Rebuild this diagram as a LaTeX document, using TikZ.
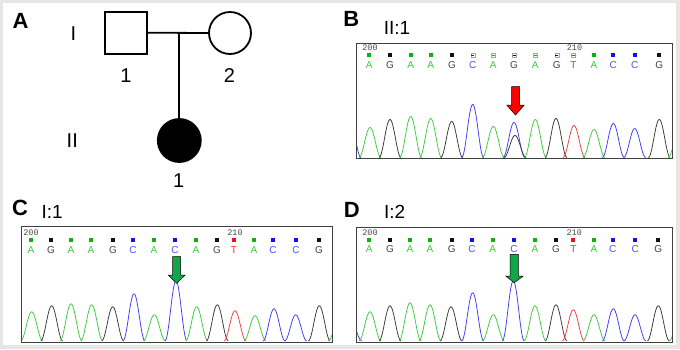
\documentclass[tikz,border=0pt]{standalone}
\usepackage{fontspec}
\setmainfont{Liberation Sans}
\newfontfamily\monof{Liberation Mono}
\definecolor{frame}{HTML}{E6E6E6}
\definecolor{sg}{HTML}{10B010}
\definecolor{sb}{HTML}{1010F0}
\definecolor{sk}{HTML}{111111}
\definecolor{sr}{HTML}{EE1111}
\definecolor{lg}{HTML}{3CC83C}
\definecolor{lb}{HTML}{5050F0}
\definecolor{lk}{HTML}{444444}
\definecolor{lr}{HTML}{F03030}
\definecolor{pg}{HTML}{3CCB3C}
\definecolor{pb}{HTML}{3C3CF5}
\definecolor{pk}{HTML}{383838}
\definecolor{pr}{HTML}{F03C3C}
\definecolor{arrgreen}{HTML}{12A54A}
\begin{document}
\begin{tikzpicture}[x=1pt,y=-1pt,
  panel/.style={font=\fontsize{22}{24}\selectfont\bfseries, inner sep=0pt},
  gen/.style={font=\fontsize{20}{22}\selectfont, inner sep=0pt},
  sublab/.style={font=\fontsize{19}{21}\selectfont, inner sep=0pt},
  ped/.style={line width=1.8pt},
  chart/.style={draw=black!75, line width=0.8pt},
  sqf/.style={minimum size=4pt, inner sep=0pt, draw=none},
  sqo/.style={minimum size=4pt, inner sep=0pt, draw=black!35, fill=white, line width=0.4pt},
  basel/.style={font=\fontsize{10}{10}\selectfont, inner sep=0pt},
  num/.style={font=\monof\fontsize{8.5}{8.5}\selectfont, inner sep=0pt, text=black!70},
  peak/.style={line width=0.75pt},
  arr/.style={draw=black, line width=0.5pt},
]
\useasboundingbox (0,0) rectangle (680,349);
\fill[frame] (0,0) rectangle (680,349);
\fill[white] (3,3) rectangle (676,345);

% ---------------- Panel A: pedigree
\node[panel] (pA) at (20.5,21.3) {A};
\node[gen] (lI) at (73.5,34) {I};
\node[gen] (lII) at (72.3,141) {II};
\node[ped, draw, minimum size=42pt, inner sep=0pt] (I1) at (126,32.7) {};
\node[ped, draw, circle, minimum size=42pt, inner sep=0pt] (I2) at (230,33) {};
\node[ped, draw, circle, fill=black, minimum size=43pt, inner sep=0pt] (II1) at (179.3,140.5) {};
\draw[ped] (I1.east) -- (I2.west);
\coordinate (mid) at (I1.east -| II1.north);
\draw[line width=2.2pt] (mid) -- (II1.north);
\node[gen] (n11) at (126,75.8) {1};
\node[gen] (n12) at (229.5,75.8) {2};
\node[gen] (n21) at (178.7,180.8) {1};

% ---------------- Panel B
\node[panel] (pB) at (351.3,18.7) {B};
\node[sublab] (sB) at (397,28.3) {II:1};
\begin{scope}
  \clip (356,43) rectangle (672,158);
  \foreach \c/\h/\col in {350/37/pb,370/30/pg,390/38/pk,410.7/41/pg,430.7/39/pg,451.7/36/pk,472.7/53/pb,493.3/31/pg,514/35/pb,515/22/pk,535.3/38/pg,556/39/pk,574/32/pr,594/28/pg,613.3/34/pb,634.7/29/pb,659.3/38/pk,679/26/pg}
    \draw[peak,\col] plot[domain=\c-11:\c+11, samples=41] (\x,{157.5-\h*(cos(90*(\x-\c)/11))^2});
\end{scope}
\draw[chart] (356,43) rectangle (672,158);
\node[num] (bn200) at (370,47.7) {200};
\node[num] (bn210) at (574.5,47.7) {210};
\foreach \x/\b/\col/\t [count=\i] in {369.3/A/g/f,390/G/k/f,410.7/A/g/f,430.7/A/g/f,452/G/k/f,472.7/C/b/o,493.3/A/g/o,514/G/k/o,535.3/A/g/o,556.7/G/k/o,573.3/T/r/o,594/A/g/f,613.3/C/b/f,634.7/C/b/f,659.3/G/k/f}{
  \if\t f
    \node[sqf, fill=s\col] (bs\i) at (\x,55.3) {};
  \else
    \node[sqo] (bs\i) at (\x,55.3) {};
    \draw[s\col, line width=1.1pt] ([xshift=-1.5pt]bs\i.center) -- ([xshift=1.5pt]bs\i.center);
  \fi
  \node[basel, text=l\col] (bl\i) at (\x,65) {\b};
}
\draw[arr, fill=red] (511.5,86.7) -- (519.5,86.7) -- (519.5,105) -- (524.3,105) -- (515.5,115) -- (506.7,105) -- (511.5,105) -- cycle;

% ---------------- Panel C
\node[panel] (pC) at (20,208) {C};
\node[sublab] (sC) at (52.2,212.2) {I:1};
\begin{scope}
  \clip (21,226.7) rectangle (332,342);
  \foreach \c/\h/\col in {31.7/29/pg,51.7/35/pk,71/37/pg,91.7/36/pg,112.7/34/pk,134/47/pb,154.3/26/pg,176/60/pb,196.7/34/pg,217.3/36/pk,235/30/pr,255/25/pg,274/32/pb,295.7/26/pb,319.3/35/pk,339/20/pg}
    \draw[peak,\col] plot[domain=\c-11:\c+11, samples=41] (\x,{340.8-\h*(cos(90*(\x-\c)/11))^2});
\end{scope}
\draw[chart] (21,226.7) rectangle (332,342);
\node[num] (cn200) at (31,232.7) {200};
\node[num] (cn210) at (235,232.7) {210};
\foreach \x/\b/\col [count=\i] in {31/A/g,51/G/k,71/A/g,91/A/g,113/G/k,133/C/b,154/A/g,175/C/b,196/A/g,217/G/k,234/T/r,254/A/g,273/C/b,296/C/b,319/G/k}{
  \node[sqf, fill=s\col] (cs\i) at (\x,240.2) {};
  \node[basel, text=l\col] (cl\i) at (\x,249.6) {\b};
}
\draw[arr, fill=arrgreen] (172.7,256.7) -- (180.7,256.7) -- (180.7,275) -- (185.2,275) -- (176.7,283.3) -- (168.2,275) -- (172.7,275) -- cycle;

% ---------------- Panel D
\node[panel] (pD) at (351.7,210) {D};
\node[sublab] (sD) at (394.7,212) {I:2};
\begin{scope}
  \clip (356,227) rectangle (672,342);
  \foreach \c/\h/\col in {351/19/pb,370/29/pg,390/35/pk,410/38/pg,430/36/pg,451/34/pk,472.7/48/pb,493.3/26/pg,513.3/60/pb,535/35/pg,556/36/pk,573.3/31/pr,594/26/pg,613.3/32/pb,635/26/pb,658.3/35/pk,680/22/pg}
    \draw[peak,\col] plot[domain=\c-11:\c+11, samples=41] (\x,{340.8-\h*(cos(90*(\x-\c)/11))^2});
\end{scope}
\draw[chart] (356,227) rectangle (672,342);
\node[num] (dn200) at (370,232.5) {200};
\node[num] (dn210) at (574.3,232.5) {210};
\foreach \x/\b/\col [count=\i] in {369.3/A/g,390/G/k,410/A/g,430/A/g,451.7/G/k,472/C/b,492.7/A/g,514/C/b,535/A/g,556/G/k,573.3/T/r,594/A/g,612.7/C/b,635.3/C/b,658.3/G/k}{
  \node[sqf, fill=s\col] (ds\i) at (\x,240) {};
  \node[basel, text=l\col] (dl\i) at (\x,249) {\b};
}
\draw[arr, fill=arrgreen] (510,254.3) -- (518.3,254.3) -- (518.3,276) -- (523.3,276) -- (514.2,282.7) -- (505.7,276) -- (510,276) -- cycle;
\end{tikzpicture}
\end{document}
